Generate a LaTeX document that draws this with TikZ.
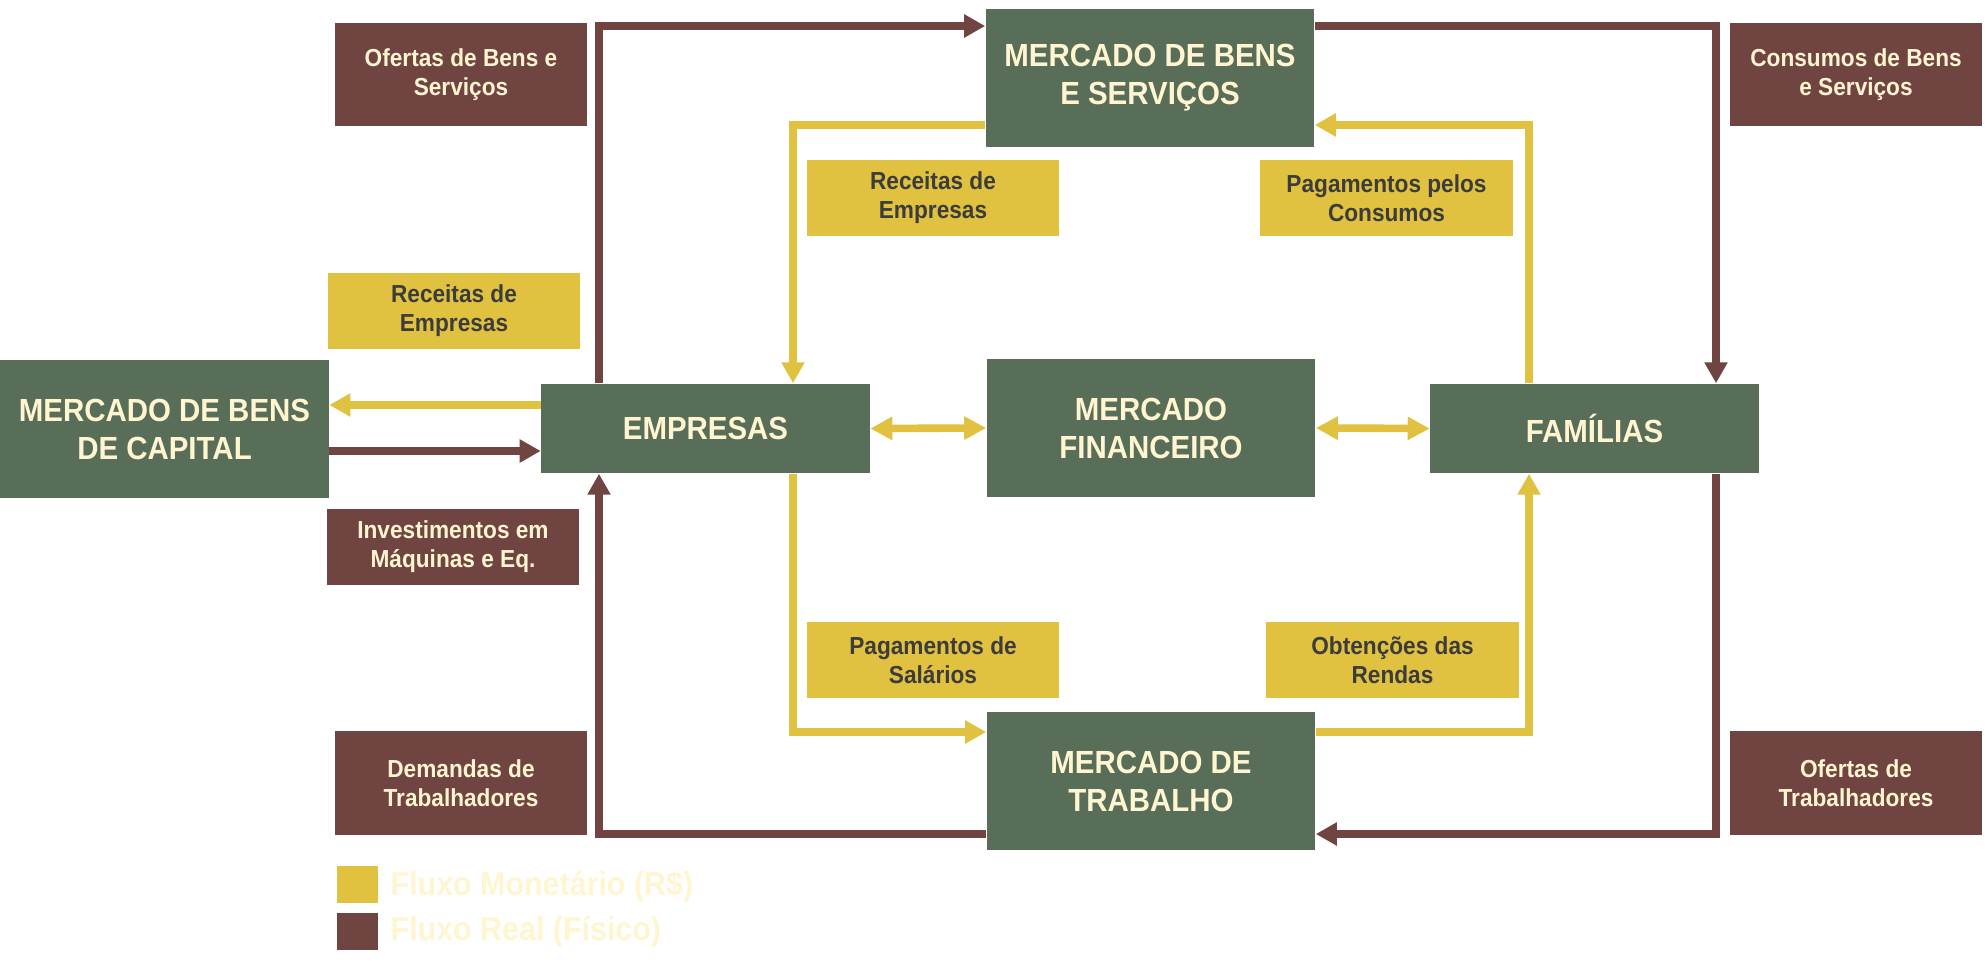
\documentclass[tikz,border=0pt]{standalone}
\usepackage{fontspec}
\setmainfont{Liberation Sans}[FakeStretch=0.92]
\usetikzlibrary{arrows.meta,positioning}
\definecolor{MktGreen}{RGB}{89,110,88}
\definecolor{RealBrown}{RGB}{112,68,65}
\definecolor{MoneyYellow}{RGB}{224,194,64}
\definecolor{CreamText}{RGB}{255,245,208}
\definecolor{DarkText}{RGB}{60,60,60}

\begin{document}
\begin{tikzpicture}[x=0.01cm,y=-0.01cm,
  market/.style={fill=MktGreen,text=CreamText,minimum width=3.28cm,minimum height=1.38cm,
                 align=center,inner sep=0pt,font=\bfseries\fontsize{9.1}{10.8}\selectfont},
  agent/.style={market,minimum height=0.89cm},
  realflow/.style={fill=RealBrown,text=CreamText,minimum width=2.52cm,minimum height=1.03cm,
                   align=center,inner sep=0pt,font=\bfseries\fontsize{7}{8.3}\selectfont},
  moneyflow/.style={realflow,fill=MoneyYellow,text=DarkText,minimum height=0.76cm},
  realline/.style={draw=RealBrown,line width=0.076cm,-{Triangle[length=0.21cm,width=0.22cm]}},
  moneyline/.style={draw=MoneyYellow,line width=0.076cm,-{Triangle[length=0.21cm,width=0.22cm]}},
  keybox/.style={minimum width=0.41cm,minimum height=0.37cm,inner sep=0pt},
  keytext/.style={anchor=base west,text=CreamText,inner sep=0pt,font=\bfseries\fontsize{9.4}{11}\selectfont},
]
\useasboundingbox (0,0) rectangle (1986,970);

\node[market] (capital) at (164.5,429) {MERCADO DE BENS\\DE CAPITAL};
\node[agent] (empresas) at (705.5,428.5) {EMPRESAS};
\node[market] (financeiro) at (1151,428) {MERCADO\\FINANCEIRO};
\node[agent] (familias) at (1594.5,428.5) {FAMÍLIAS};
\node[market] (bens) at (1150,78) {MERCADO DE BENS\\E SERVIÇOS};
\node[market] (trabalho) at (1151,781) {MERCADO DE\\TRABALHO};

\node[realflow] (ofertasbens) at (461,74.5) {Ofertas de Bens e\\Serviços};
\node[realflow] (consumos) at (1856,74.5) {Consumos de Bens\\e Serviços};
\node[moneyflow] (receitas) at (933,198) {Receitas de\\Empresas};
\node[moneyflow] (pagconsumos) at (1386.5,198) {Pagamentos pelos\\Consumos};
\node[moneyflow] (receitascap) at (454,311) {Receitas de\\Empresas};
\node[realflow,minimum height=0.76cm] (investimentos) at (453,547) {Investimentos em\\Máquinas e Eq.};
\node[moneyflow] (salarios) at (933,660) {Pagamentos de\\Salários};
\node[moneyflow] (rendas) at (1392.5,660) {Obtenções das\\Rendas};
\node[realflow] (demandas) at (461,783) {Demandas de\\Trabalhadores};
\node[realflow] (ofertastrab) at (1856,783) {Ofertas de\\Trabalhadores};

\coordinate (realtl) at (599,26);
\coordinate (realtr) at (1716,26);
\coordinate (realbl) at (599,834);
\coordinate (realbr) at (1716,834);
\coordinate (moneytl) at (793,125);
\coordinate (moneytr) at (1529,125);
\coordinate (moneybl) at (793,732);
\coordinate (moneybr) at (1529,732);
\coordinate (moneycap) at (450,405);
\coordinate (realcap) at (450,451);

\draw[realline] (empresas.north -| realtl) -- (realtl) -- (bens.west |- realtl);
\draw[realline] (bens.east |- realtr) -- (realtr) -- (familias.north -| realtr);
\draw[realline] (familias.south -| realbr) -- (realbr) -- (trabalho.east |- realbr);
\draw[realline] (trabalho.west |- realbl) -- (realbl) -- (empresas.south -| realbl);
\draw[moneyline] (bens.west |- moneytl) -- (moneytl) -- (empresas.north -| moneytl);
\draw[moneyline] (familias.north -| moneytr) -- (moneytr) -- (bens.east |- moneytr);
\draw[moneyline] (empresas.south -| moneybl) -- (moneybl) -- (trabalho.west |- moneybl);
\draw[moneyline] (trabalho.east |- moneybr) -- (moneybr) -- (familias.south -| moneybr);
\draw[moneyline] (empresas.west |- moneycap) -- (capital.east |- moneycap);
\draw[realline] (capital.east |- realcap) -- (empresas.west |- realcap);
\draw[moneyline,{Triangle[length=0.22cm,width=0.22cm]}-{Triangle[length=0.22cm,width=0.22cm]}] (empresas.east) -- (financeiro.west);
\draw[moneyline,{Triangle[length=0.22cm,width=0.22cm]}-{Triangle[length=0.22cm,width=0.22cm]}] (financeiro.east) -- (familias.west);

\node[keybox,fill=MoneyYellow] (keymoney) at (357.5,884.5) {};
\node[keybox,fill=RealBrown] (keyreal) at (357.5,931) {};
\node[keytext] (keymoneytext) at (390,895) {Fluxo Monetário (R\$)};
\node[keytext] (keyrealtext) at (390,940) {Fluxo Real (Físico)};
\end{tikzpicture}
\end{document}
